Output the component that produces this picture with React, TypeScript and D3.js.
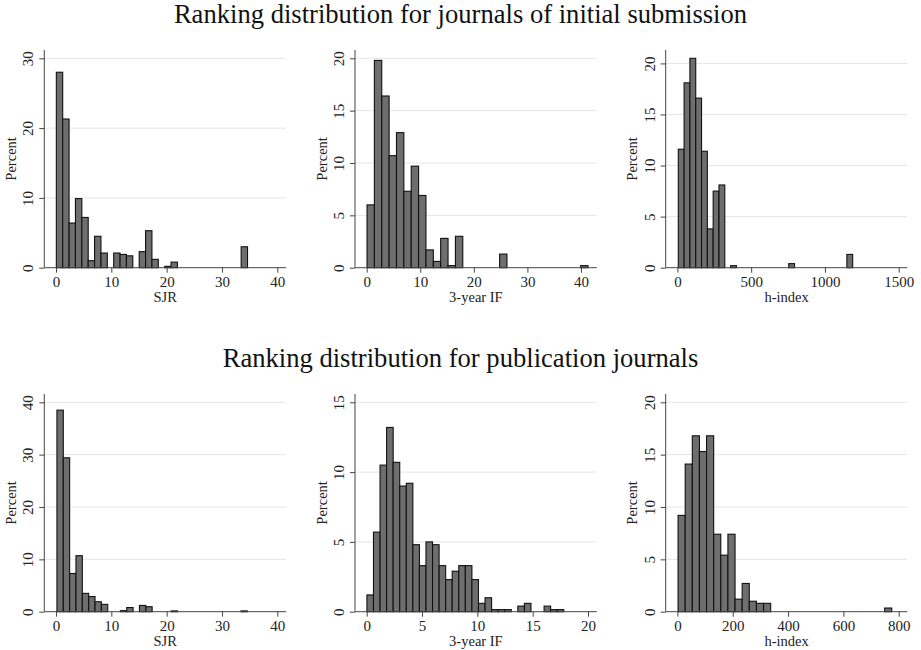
import React, { useEffect, useRef } from "react";
import * as d3 from "d3";

// percent of journals per bin (30 bins each panel)
const subSJR = [28.0, 21.3, 6.4, 9.9, 7.2, 1.0, 4.5, 2.1, 0, 2.1, 1.9, 1.7, 0, 2.3, 5.3, 1.2, 0, 0.2, 0.8, 0, 0, 0, 0, 0, 0, 0, 0, 0, 0, 3.0];
const subIF = [6.0, 19.8, 16.4, 10.7, 12.9, 7.3, 9.7, 6.9, 1.7, 0.6, 2.8, 0.2, 3.0, 0, 0, 0, 0, 0, 1.3, 0, 0, 0, 0, 0, 0, 0, 0, 0, 0, 0.2];
const subH = [11.6, 18.1, 20.5, 16.6, 11.4, 3.8, 7.5, 8.1, 0, 0.2, 0, 0, 0, 0, 0, 0, 0, 0, 0, 0.4, 0, 0, 0, 0, 0, 0, 0, 0, 0, 1.3];
const pubSJR = [38.5, 29.4, 7.3, 10.7, 3.5, 2.9, 1.9, 1.4, 0, 0, 0.2, 0.8, 0, 1.2, 0.95, 0, 0, 0, 0.15, 0, 0, 0, 0, 0, 0, 0, 0, 0, 0, 0.15];
const pubIF = [1.2, 5.7, 10.5, 13.2, 10.7, 9.0, 9.2, 4.8, 3.3, 5.0, 4.8, 3.3, 2.3, 2.9, 3.3, 3.3, 2.3, 0.6, 1.0, 0.15, 0.15, 0.15, 0, 0.4, 0.6, 0, 0, 0.4, 0.15, 0.15];
const pubH = [9.2, 14.1, 16.8, 15.3, 16.8, 7.4, 5.4, 7.4, 1.2, 2.7, 1.0, 0.8, 0.8, 0, 0, 0, 0, 0, 0, 0, 0, 0, 0, 0, 0, 0, 0, 0, 0, 0.35];

// lower edge of the first bin and the bin width, per panel
const binStart = [0.06, 0.06, 6, 0.17, 0.02, 2.4];
const binWidth = [1.152, 1.375, 39.4, 1.147, 0.593, 25.75];

const xTicks = [[0, 10, 20, 30, 40], [0, 10, 20, 30, 40], [0, 500, 1000, 1500], [0, 10, 20, 30, 40], [0, 5, 10, 15, 20], [0, 200, 400, 600, 800]];
const yTicks = [[0, 10, 20, 30], [0, 5, 10, 15, 20], [0, 5, 10, 15, 20], [0, 10, 20, 30, 40], [0, 5, 10, 15], [0, 5, 10, 15, 20]];
const xTitles = ["SJR", "3-year IF", "h-index", "SJR", "3-year IF", "h-index"];
const rowTitles = ["Ranking distribution for journals of initial submission", "Ranking distribution for publication journals"];

const panels = [subSJR, subIF, subH, pubSJR, pubIF, pubH];

export default function App() {
  const ref = useRef<SVGSVGElement>(null);

  useEffect(() => {
    const svg = d3.select(ref.current);
    svg.selectAll("*").remove();
    const font = "'Liberation Serif', 'Times New Roman', serif";

    const colX = [0, 310.7, 621.4];
    const rowY = [0, 344];

    // row titles
    svg.selectAll("text.rowtitle")
      .data(rowTitles)
      .enter()
      .append("text")
      .attr("class", "rowtitle")
      .attr("x", 460.5)
      .attr("y", (d, i) => 23.3 + rowY[i])
      .attr("text-anchor", "middle")
      .style("font-family", font)
      .style("font-size", "26.6px")
      .attr("fill", "#111")
      .text(d => d);

    panels.forEach((vals, p) => {
      const g = svg.append("g")
        .attr("transform", `translate(${colX[p % 3]},${rowY[Math.floor(p / 3)]})`);

      const start = binStart[p], w = binWidth[p];
      const xt = xTicks[p], yt = yTicks[p];
      const x = d3.scaleLinear()
        .domain([Math.min(0, start), Math.max(xt[xt.length - 1], start + vals.length * w)])
        .range([56, 277.3]);
      const y = d3.scaleLinear()
        .domain([0, Math.max(d3.max(vals) as number, yt[yt.length - 1])])
        .range([267.7, 58.3]);

      // grid
      g.selectAll("line.grid")
        .data(yt.filter(t => t > 0))
        .enter()
        .append("line")
        .attr("x1", 44.3).attr("x2", 286)
        .attr("y1", d => y(d)).attr("y2", d => y(d))
        .attr("stroke", "#e6e6e6")
        .attr("stroke-width", 1);

      // bars
      const bins = vals.map((v, i) => ({ v, x0: start + i * w, x1: start + (i + 1) * w })).filter(b => b.v > 0);
      g.selectAll("rect")
        .data(bins)
        .enter()
        .append("rect")
        .attr("x", d => x(d.x0))
        .attr("width", d => x(d.x1) - x(d.x0))
        .attr("y", d => y(d.v))
        .attr("height", d => y(0) - y(d.v))
        .attr("fill", "#6e6e6e")
        .attr("stroke", "#111")
        .attr("stroke-width", 1.1);

      // x axis
      const xa = g.append("g")
        .attr("transform", `translate(0,${y(0)})`)
        .call(d3.axisBottom(x).tickValues(xt).tickSize(5).tickPadding(3.5).tickFormat(d3.format("d")));
      xa.select(".domain").remove();
      xa.selectAll("text").style("font-family", font).style("font-size", "15px").attr("fill", "#222");
      xa.selectAll("line").attr("stroke", "#444");

      // y axis
      const ya = g.append("g")
        .attr("transform", "translate(44.3,0)")
        .call(d3.axisLeft(y).tickValues(yt).tickSize(5).tickFormat(d3.format("d")));
      ya.select(".domain").remove();
      ya.selectAll("line").attr("stroke", "#444");
      ya.selectAll("text")
        .attr("x", null)
        .attr("dy", null)
        .attr("text-anchor", "middle")
        .attr("transform", "translate(-11,0) rotate(-90)")
        .style("font-family", font)
        .style("font-size", "15px")
        .attr("fill", "#222");

      // axis lines
      g.append("line")
        .attr("x1", 44.3).attr("x2", 286)
        .attr("y1", y(0)).attr("y2", y(0))
        .attr("stroke", "#444");
      g.append("line")
        .attr("x1", 44.3).attr("x2", 44.3)
        .attr("y1", 50).attr("y2", y(0))
        .attr("stroke", "#444");

      // titles
      g.append("text")
        .attr("x", 165.2)
        .attr("y", 302)
        .attr("text-anchor", "middle")
        .style("font-family", font)
        .style("font-size", "14.5px")
        .attr("fill", "#222")
        .text(xTitles[p]);
      g.append("text")
        .attr("transform", "translate(16,158.9) rotate(-90)")
        .attr("text-anchor", "middle")
        .style("font-family", font)
        .style("font-size", "14.5px")
        .attr("fill", "#222")
        .text("Percent");
    });
  }, []);

  return (
    <svg ref={ref} width={921} height={650}
      style={{ position: "absolute", left: 0, top: 0, background: "#fff" }} />
  );
}
